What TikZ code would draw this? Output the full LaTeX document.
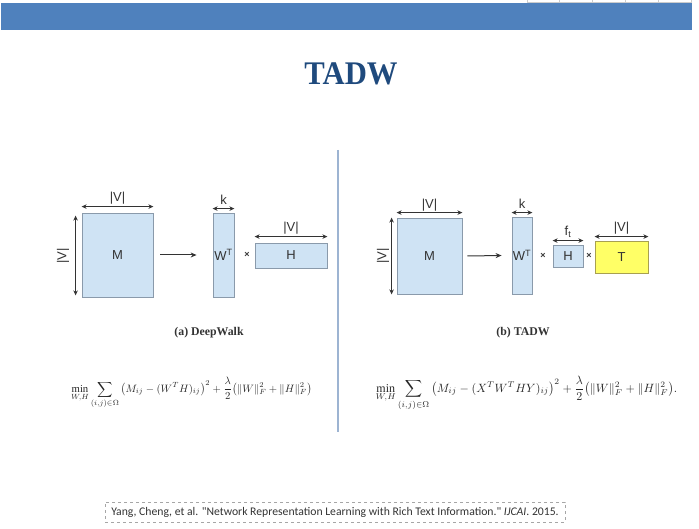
\documentclass[tikz,border=0pt]{standalone}
\usepackage{amsmath}
\usepackage{fontspec}
\setmainfont{Liberation Serif}
\newfontfamily\diagfont{Liberation Sans}
\newfontfamily\citefont{Carlito}
\usetikzlibrary{arrows.meta}
\definecolor{bandblue}{HTML}{4F81BD}
\definecolor{titleblue}{HTML}{1F4A7D}
\definecolor{boxfill}{HTML}{CFE3F4}
\definecolor{boxline}{HTML}{8A9AAB}
\definecolor{yelfill}{HTML}{FFFF66}
\definecolor{yelline}{HTML}{A8A050}
\definecolor{sepline}{HTML}{9DB4D2}
\definecolor{txtgray}{HTML}{333333}
\tikzset{
  mbox/.style={draw=boxline, fill=boxfill, line width=0.8pt, inner sep=0pt, font=\diagfont\fontsize{13}{14}\selectfont, text=txtgray},
  tbox/.style={mbox, draw=yelline, fill=yelfill},
  dimarrow/.style={{Stealth[length=5pt,width=4.5pt]}-{Stealth[length=5pt,width=4.5pt]}, line width=1pt, draw=txtgray},
  maparrow/.style={-{Stealth[length=6pt,width=5pt]}, line width=1pt, draw=txtgray},
  dimlabel/.style={font=\diagfont\fontsize{13}{14}\selectfont, text=txtgray, inner sep=0pt},
  timeslabel/.style={font=\diagfont\bfseries\fontsize{9}{10}\selectfont, text=txtgray, inner sep=0pt},
  caplabel/.style={font=\bfseries\fontsize{11.8}{13}\selectfont, text=txtgray, inner sep=0pt},
  formula/.style={inner sep=0pt, text=black!85}
}
\begin{document}
\begin{tikzpicture}[x=1pt,y=-1pt]
\useasboundingbox (0,0) rectangle (699,529);
% header band
\fill[bandblue] (1,3) rectangle (692,30);
\draw[gray!40, line width=0.5pt] (527,2.5) -- (692,2.5);
\foreach \gx in {527,559,592,625,658,691.5} \draw[gray!40, line width=0.5pt] (\gx,0) -- (\gx,3);
% title
\node[font=\bfseries\fontsize{33}{35}\selectfont, text=titleblue, inner sep=0pt, xscale=0.93] (title) at (351,74) {TADW};
% separator
\draw[sepline, line width=1.2pt] (338,150) -- (338,432);

% ---------- left panel (DeepWalk) ----------
\node[mbox, minimum width=71pt, minimum height=84pt] (M1) at (117.5,255) {M};
\node[mbox, minimum width=21pt, minimum height=84pt] (W1) at (223.5,255) {W\textsuperscript{T}};
\node[mbox, minimum width=72pt, minimum height=25pt] (H1) at (291,255.5) {H};
\node[timeslabel] (x1) at (247,255) {×};
\draw[maparrow] ([xshift=7pt]M1.east) -- ([xshift=-16pt]W1.west);
\draw[dimarrow] ([yshift=6pt]M1.north west) -- ([yshift=6pt]M1.north east);
\node[dimlabel] (vM1t) at (117.5,198) {|V|};
\draw[dimarrow] ([xshift=-6pt,yshift=-3pt]M1.north west) -- ([xshift=-6pt,yshift=2pt]M1.south west);
\node[dimlabel, rotate=90] (vM1l) at (63,256) {|V|};
\draw[dimarrow] ([yshift=4pt]W1.north west) -- ([yshift=4pt]W1.north east);
\node[dimlabel] (k1) at (223.5,200) {k};
\draw[dimarrow] ([yshift=6pt]H1.north west) -- ([yshift=6pt]H1.north east);
\node[dimlabel] (vH1) at (291,228) {|V|};
\node[caplabel] (cap1) at (209,333) {(a) DeepWalk};
\node[formula, scale=1.07] (f1) at (191.5,393) {$\displaystyle\min_{W,H}\sum_{(i,j)\in\Omega}\big(M_{ij}-(W^TH)_{ij}\big)^2+\frac{\lambda}{2}\big(\|W\|_F^2+\|H\|_F^2\big)$};

% ---------- right panel (TADW) ----------
\node[mbox, minimum width=65pt, minimum height=76pt] (M2) at (429.5,256) {M};
\node[mbox, minimum width=20pt, minimum height=77pt] (W2) at (522,255.5) {W\textsuperscript{T}};
\node[mbox, minimum width=30pt, minimum height=22pt] (H2) at (568,256) {H};
\node[tbox, minimum width=53pt, minimum height=32pt] (T2) at (621.5,257) {T};
\node[timeslabel] (x2) at (543,256) {×};
\node[timeslabel] (x3) at (589,256) {×};
\draw[maparrow] ([xshift=5pt]M2.east) -- ([xshift=-10pt]W2.west);
\draw[dimarrow] ([yshift=5pt]M2.north west) -- ([yshift=5pt]M2.north east);
\node[dimlabel] (vM2t) at (429.5,205) {|V|};
\draw[dimarrow] ([xshift=-5pt]M2.north west) -- ([xshift=-5pt]M2.south west);
\node[dimlabel, rotate=90] (vM2l) at (383,256) {|V|};
\draw[dimarrow] ([yshift=4pt]W2.north west) -- ([yshift=4pt]W2.north east);
\node[dimlabel] (k2) at (522,204) {k};
\draw[dimarrow] ([yshift=4pt]H2.north west) -- ([yshift=4pt]H2.north east);
\node[dimlabel] (ft) at (568,232) {f\textsubscript{t}};
\draw[dimarrow] ([yshift=4pt]T2.north west) -- ([yshift=4pt]T2.north east);
\node[dimlabel] (vT2) at (621.5,228) {|V|};
\node[caplabel] (cap2) at (523,333) {(b) TADW};
\node[formula, scale=1.2] (f2) at (526.5,393) {$\displaystyle\min_{W,H}\sum_{(i,j)\in\Omega}\big(M_{ij}-(X^TW^THY)_{ij}\big)^2+\frac{\lambda}{2}\big(\|W\|_F^2+\|H\|_F^2\big).$};

% ---------- citation ----------
\node[draw=gray!70, dashed, line width=0.6pt, minimum width=460pt, minimum height=20pt, inner sep=0pt, font=\citefont\fontsize{11.7}{13}\selectfont, text=txtgray] (cite) at (335,512) {Yang, Cheng, et al. "Network Representation Learning with Rich Text Information." \textit{IJCAI}. 2015.};
\end{tikzpicture}
\end{document}
